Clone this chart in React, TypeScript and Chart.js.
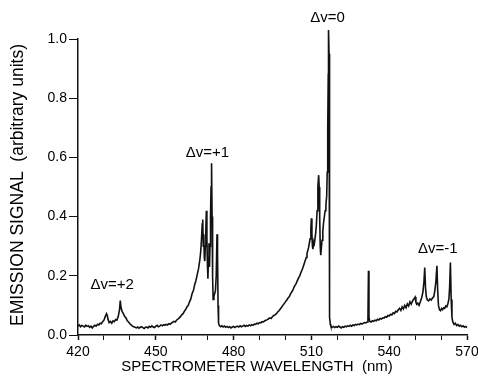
import React, { useEffect, useRef } from "react";
import { Chart, registerables } from "chart.js";

Chart.register(...registerables);

// Wavelength (nm)
const wavelengthNm = [
  420, 420.5, 421, 421.5, 422, 422.5, 423, 423.5, 424, 424.5,
  425, 425.5, 426, 426.5, 427, 427.5, 428, 428.5, 429, 429.5,
  430, 430.5, 431, 431.3, 431.6, 432, 432.5, 433, 433.5, 434,
  434.5, 435, 435.5, 436, 436.3, 436.6, 437, 437.5, 438, 438.5,
  439, 439.5, 440, 440.5, 441, 441.5, 442, 442.5, 443, 443.5,
  444, 444.5, 445, 445.5, 446, 446.5, 447, 447.5, 448, 448.5,
  449, 449.5, 450, 450.5, 451, 451.5, 452, 452.5, 453, 453.5,
  454, 454.5, 455, 455.5, 456, 456.5, 457, 457.5, 458, 458.5,
  459, 459.5, 460, 460.5, 461, 461.5, 462, 462.5, 463, 463.5,
  464, 464.5, 465, 465.5, 466, 466.5, 467, 467.3, 467.6, 467.9,
  468.1, 468.3, 468.5, 468.7, 468.9, 469.1, 469.3, 469.5, 469.7, 469.9,
  470.1, 470.3, 470.5, 470.7, 470.9, 471.1, 471.3, 471.5, 471.7, 471.9,
  472.1, 472.4, 472.7, 473.0, 473.3, 473.6, 473.8, 474.0, 474.2, 474.5,
  475, 475.5, 476, 476.5, 477, 477.5, 478, 478.5, 479, 479.5,
  480, 480.5, 481, 481.5, 482, 482.5, 483, 483.5, 484, 484.5,
  485, 485.5, 486, 486.5, 487, 487.5, 488, 488.5, 489, 489.5,
  490, 490.5, 491, 491.5, 492, 492.5, 493, 493.5, 494, 494.5,
  495, 495.5, 496, 496.5, 497, 497.5, 498, 498.5, 499, 499.5,
  500, 500.5, 501, 501.5, 502, 502.5, 503, 503.5, 504, 504.5,
  505, 505.5, 506, 506.5, 507, 507.5, 508, 508.3, 508.6, 508.9,
  509.2, 509.5, 509.8, 510.0, 510.2, 510.4, 510.6, 510.8, 511.0, 511.3,
  511.6, 511.9, 512.2, 512.5, 512.8, 513.0, 513.2, 513.4, 513.6, 513.8,
  514.1, 514.4, 514.7, 515.0, 515.3, 515.6, 515.9, 516.1, 516.3, 516.5,
  516.6, 516.8, 516.9, 517.0, 517.1, 517.3, 517.5, 518, 518.5, 519,
  519.5, 520, 520.5, 521, 521.5, 522, 522.5, 523, 523.5, 524,
  524.5, 525, 525.5, 526, 526.5, 527, 527.5, 528, 528.5, 529,
  529.5, 530, 530.5, 531, 531.5, 531.8, 532.0, 532.2, 532.5, 533,
  533.5, 534, 534.5, 535, 535.5, 536, 536.5, 537, 537.5, 538,
  538.5, 539, 539.5, 540, 540.5, 541, 541.5, 542, 542.5, 543,
  543.5, 544, 544.5, 545, 545.5, 546, 546.5, 547, 547.5, 548,
  548.5, 549, 549.5, 550, 550.3, 550.6, 551, 551.5, 552, 552.5,
  553, 553.4, 553.7, 554.0, 554.3, 554.7, 555.2, 555.7, 556.2, 556.7,
  557.2, 557.6, 558.0, 558.4, 558.7, 559.0, 559.4, 559.8, 560.2, 560.6,
  561.0, 561.4, 561.8, 562.2, 562.6, 563.0, 563.3, 563.6, 563.9, 564.2,
  564.5, 565, 565.5, 566, 566.5, 567, 567.5, 568, 568.5, 569,
  569.5, 570,
];

// Emission signal (arbitrary units), same order as wavelengthNm
const signal = [
  0.030, 0.034, 0.028, 0.032, 0.030, 0.027, 0.033, 0.029, 0.031, 0.026,
  0.030, 0.024, 0.029, 0.033, 0.030, 0.036, 0.034, 0.040, 0.038, 0.045,
  0.050, 0.062, 0.072, 0.066, 0.052, 0.042, 0.046, 0.040, 0.048, 0.045,
  0.052, 0.050, 0.062, 0.085, 0.116, 0.092, 0.080, 0.072, 0.062, 0.058,
  0.048, 0.044, 0.038, 0.034, 0.030, 0.028, 0.026, 0.024, 0.027, 0.023,
  0.026, 0.028, 0.025, 0.022, 0.026, 0.027, 0.024, 0.029, 0.026, 0.031,
  0.027, 0.025, 0.030, 0.033, 0.028, 0.030, 0.034, 0.031, 0.035, 0.033,
  0.036, 0.034, 0.038, 0.036, 0.040, 0.043, 0.046, 0.044, 0.050, 0.054,
  0.057, 0.062, 0.068, 0.072, 0.080, 0.086, 0.095, 0.100, 0.112, 0.122,
  0.140, 0.150, 0.170, 0.185, 0.205, 0.225, 0.255, 0.280, 0.320, 0.375,
  0.390, 0.300, 0.340, 0.260, 0.250, 0.300, 0.360, 0.420, 0.330, 0.240,
  0.190, 0.260, 0.310, 0.230, 0.300, 0.400, 0.500, 0.580, 0.400, 0.200,
  0.120, 0.130, 0.140, 0.150, 0.200, 0.340, 0.280, 0.100, 0.040, 0.032,
  0.028, 0.031, 0.027, 0.030, 0.026, 0.029, 0.025, 0.028, 0.024, 0.027,
  0.029, 0.025, 0.028, 0.030, 0.027, 0.031, 0.028, 0.030, 0.033, 0.029,
  0.032, 0.030, 0.034, 0.031, 0.035, 0.033, 0.037, 0.036, 0.040, 0.038,
  0.042, 0.041, 0.045, 0.044, 0.048, 0.050, 0.052, 0.055, 0.058, 0.056,
  0.062, 0.066, 0.068, 0.072, 0.078, 0.082, 0.088, 0.094, 0.100, 0.106,
  0.112, 0.118, 0.125, 0.130, 0.140, 0.146, 0.155, 0.165, 0.172, 0.182,
  0.192, 0.200, 0.212, 0.222, 0.235, 0.248, 0.262, 0.275, 0.285, 0.295,
  0.310, 0.325, 0.360, 0.394, 0.340, 0.300, 0.290, 0.310, 0.300, 0.320,
  0.340, 0.370, 0.420, 0.500, 0.540, 0.500, 0.400, 0.300, 0.270, 0.290,
  0.320, 0.350, 0.380, 0.400, 0.420, 0.440, 0.470, 0.550, 0.700, 0.880,
  1.030, 0.950, 0.600, 0.200, 0.060, 0.036, 0.030, 0.026, 0.029, 0.025,
  0.028, 0.026, 0.030, 0.027, 0.024, 0.028, 0.026, 0.030, 0.028, 0.031,
  0.029, 0.033, 0.030, 0.034, 0.032, 0.036, 0.034, 0.037, 0.035, 0.039,
  0.037, 0.040, 0.042, 0.041, 0.044, 0.050, 0.217, 0.060, 0.046, 0.044,
  0.048, 0.046, 0.050, 0.048, 0.053, 0.051, 0.056, 0.054, 0.058, 0.057,
  0.062, 0.060, 0.066, 0.064, 0.070, 0.068, 0.075, 0.072, 0.080, 0.078,
  0.085, 0.090, 0.083, 0.095, 0.088, 0.100, 0.092, 0.105, 0.098, 0.112,
  0.104, 0.115, 0.122, 0.128, 0.110, 0.104, 0.108, 0.100, 0.112, 0.125,
  0.145, 0.180, 0.228, 0.160, 0.130, 0.118, 0.115, 0.122, 0.118, 0.125,
  0.130, 0.150, 0.180, 0.234, 0.150, 0.100, 0.085, 0.082, 0.090, 0.086,
  0.092, 0.090, 0.098, 0.095, 0.105, 0.120, 0.160, 0.245, 0.120, 0.060,
  0.045, 0.036, 0.040, 0.032, 0.035, 0.030, 0.033, 0.028, 0.031, 0.026,
  0.029, 0.025,
];

// Axis ticks
const xTickMin = 420;
const xTickMax = 570;
const xLabelStep = 30;
const xMinorStep = 10;
const yTickMin = 0;
const yTickMax = 1.0;
const yTickStep = 0.2;

// Band labels (text anchored at wavelength / signal)
const bandLabels = ["Δv=+2", "Δv=+1", "Δv=0", "Δv=-1"];
const bandLabelNm = [433.2, 469.9, 516.2, 558.7];
const bandLabelSignal = [0.169, 0.615, 1.071, 0.29];

const xTitle = "SPECTROMETER WAVELENGTH  (nm)";
const yTitle = "EMISSION SIGNAL  (arbitrary units)";

const FONT = "'Liberation Sans', Arial, sans-serif";

export default function App() {
  const canvasRef = useRef<HTMLCanvasElement | null>(null);

  useEffect(() => {
    const canvas = canvasRef.current;
    if (!canvas) return;

    const points = wavelengthNm.map((x, i) => ({ x, y: signal[i] }));

    const labelsPlugin = {
      id: "bandLabels",
      afterDatasetsDraw(chart: any) {
        const { ctx, scales } = chart;
        ctx.save();
        ctx.fillStyle = "#000";
        ctx.font = `15px ${FONT}`;
        ctx.textAlign = "center";
        ctx.textBaseline = "middle";
        bandLabels.forEach((t, i) => {
          const px = scales.x.getPixelForValue(bandLabelNm[i]);
          const py = scales.y.getPixelForValue(bandLabelSignal[i]);
          ctx.fillText(t, px, py);
        });
        // axis titles
        ctx.font = `15px ${FONT}`;
        ctx.fillText(xTitle, 257, 367);
        ctx.translate(18, 185);
        ctx.rotate(-Math.PI / 2);
        ctx.font = `17.5px ${FONT}`;
        ctx.fillText(yTitle, 0, 0);
        ctx.restore();
      },
    };

    const chart = new Chart(canvas, {
      type: "line",
      data: {
        datasets: [
          {
            data: points,
            borderColor: "#111",
            borderWidth: 1.6,
            pointRadius: 0,
            tension: 0,
            fill: false,
            clip: false as any,
          },
        ],
      },
      options: {
        responsive: false,
        animation: false,
        devicePixelRatio: 1,
        parsing: false as any,
        layout: { padding: { left: 0, right: 11, top: 39, bottom: 0 } },
        plugins: {
          legend: { display: false },
          tooltip: { enabled: false },
        },
        scales: {
          x: {
            type: "linear",
            min: xTickMin,
            max: xTickMax,
            afterFit: (scale: any) => {
              scale.height = 43;
              scale.paddingLeft = 0;
              scale.paddingRight = 0;
            },
            border: { display: true, color: "#111", width: 1.5 },
            grid: {
              display: true,
              drawOnChartArea: false,
              drawTicks: true,
              tickLength: 5,
              tickColor: "#111",
              tickWidth: (ctx: any) =>
                ctx.tick && ctx.tick.value % xLabelStep === 0 ? 1.5 : 1,
            },
            ticks: {
              stepSize: xMinorStep,
              autoSkip: false,
              maxRotation: 0,
              padding: 4,
              color: "#000",
              font: { family: FONT, size: 14 },
              callback: (v: any) =>
                Number(v) % xLabelStep === 0 ? String(v) : "",
            },
          },
          y: {
            type: "linear",
            min: yTickMin,
            max: yTickMax,
            afterFit: (scale: any) => {
              scale.width = 78;
              scale.paddingTop = 0;
              scale.paddingBottom = 0;
            },
            border: { display: true, color: "#111", width: 1.5 },
            grid: {
              display: true,
              drawOnChartArea: false,
              drawTicks: true,
              tickLength: 9,
              tickColor: "#111",
              tickWidth: 1,
            },
            ticks: {
              stepSize: yTickStep,
              padding: 2,
              color: "#000",
              font: { family: FONT, size: 14 },
              callback: (v: any) => Number(v).toFixed(1),
            },
          },
        },
      },
      plugins: [labelsPlugin],
    });

    return () => chart.destroy();
  }, []);

  return (
    <div
      style={{
        position: "fixed",
        left: 0,
        top: 0,
        width: 478,
        height: 378,
        background: "#fff",
      }}
    >
      <canvas ref={canvasRef} width={478} height={378} />
    </div>
  );
}
